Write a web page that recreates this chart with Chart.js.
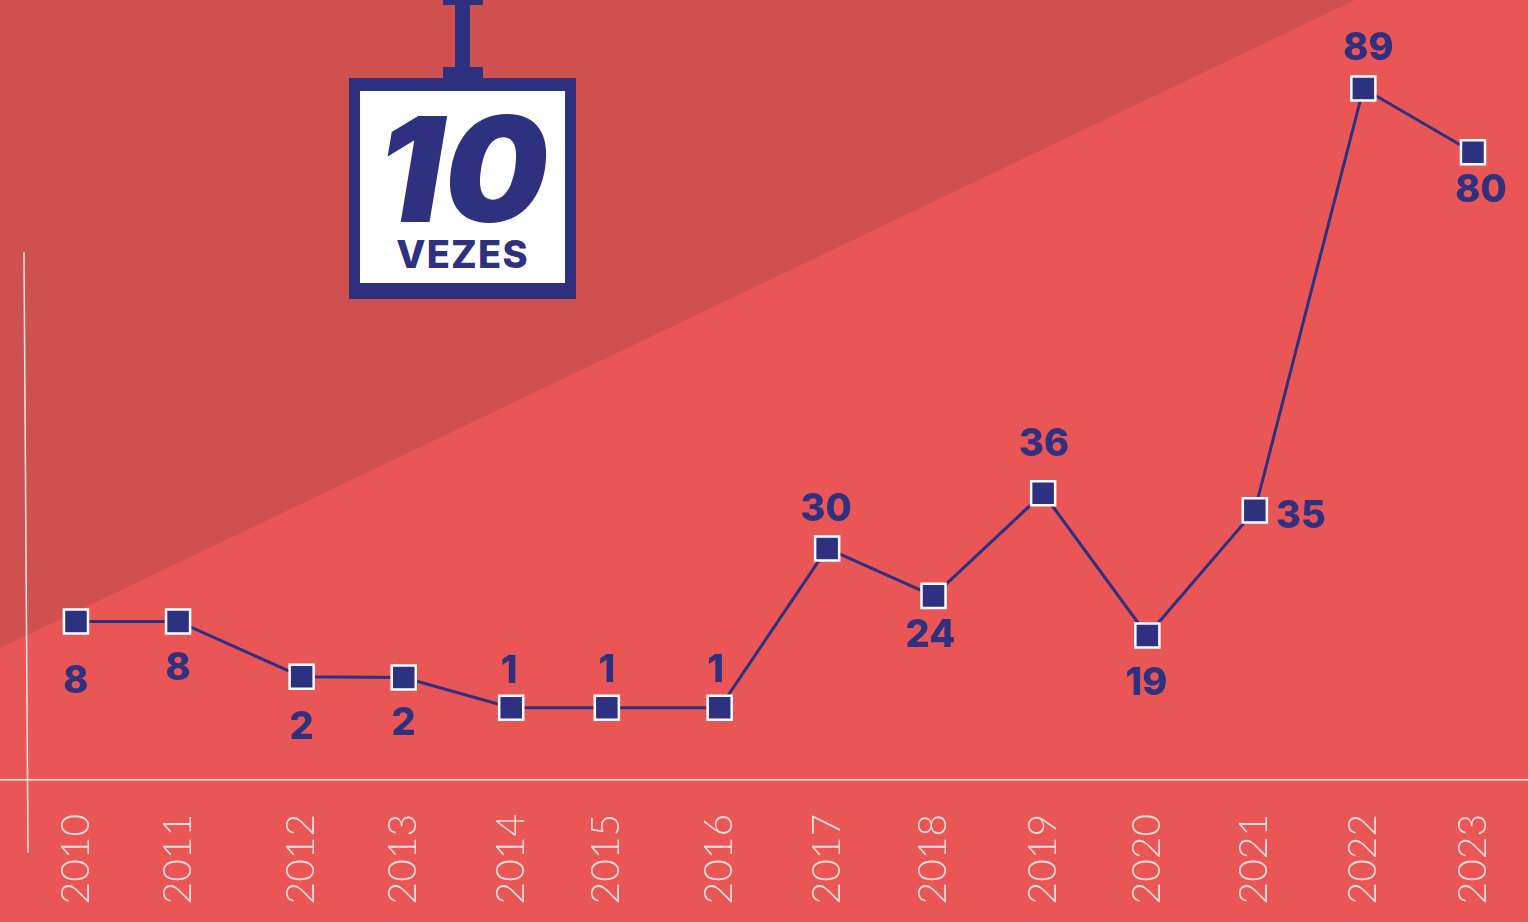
<!DOCTYPE html>
<html><head><meta charset="utf-8">
<script src="https://cdn.jsdelivr.net/npm/chart.js@4"></script>
<style>
html,body{margin:0;padding:0;width:1528px;height:922px;overflow:hidden;background:#EA5656}
#wrap{position:relative;width:1528px;height:922px}
canvas{position:absolute;left:0;top:0}
.navy{position:absolute;background:#2E3080}
#card{position:absolute;left:360px;top:91px;width:205px;height:192px;background:#fff;color:#2E3080;text-align:center;font-family:Inter,sans-serif}
#num{position:absolute;left:0;right:0;top:3px;font-size:146px;line-height:150px;font-weight:900;font-style:italic;letter-spacing:1px;padding-left:1px;box-sizing:border-box;white-space:nowrap}
#lbl{position:absolute;left:0;right:0;top:140px;font-size:38px;line-height:46px;font-weight:800;letter-spacing:1.2px}
</style></head>
<body><div id="wrap">
<canvas id="c" width="1528" height="922"></canvas>
<div class="navy" style="left:443px;top:0;width:40px;height:5px"></div>
<div class="navy" style="left:455px;top:0;width:15px;height:70px"></div>
<div class="navy" style="left:443px;top:67px;width:40px;height:12px"></div>
<div class="navy" style="left:349px;top:78px;width:227px;height:221px"></div>
<div id="card"><div id="num">10</div><div id="lbl">VEZES</div></div>
</div>
<script>
const yearLabels = ['2010','2011','2012','2013','2014','2015','2016','2017','2018','2019','2020','2021','2022','2023'];
// values printed on the chart
const values = [8,8,2,2,1,1,1,30,24,36,19,35,89,80];
// horizontal spots (the years are unevenly spaced there)
const yearSpots = [2010,2010.95,2012.1,2013.05,2014.05,2014.94,2015.99,2016.99,2017.98,2019,2019.97,2020.97,2021.98,2023];
// heights (the smallest values are drawn taller than their number)
const drawnHeights = [20.4,20.4,13.3,13.2,9.3,9.3,9.3,29.8,23.7,36.9,18.6,34.7,89,80.8];

const NAVY = '#2E3080', BG = '#EA5656', DARK = '#D05050';
const labelOffsets = [[0,60],[0,47],[0,51],[0,46],[-2,-36],[0,-37],[-4,-37],[-1,-39],[-3,40],[1,-49],[-1,48],[46,6],[5,-40],[8,38]];

const backdrop = {
  id:'backdrop',
  beforeDraw(chart){
    const c = chart.ctx;
    c.save();
    c.fillStyle = BG; c.fillRect(0,0,chart.width,chart.height);
    c.fillStyle = DARK;
    c.beginPath(); c.moveTo(0,0); c.lineTo(1355,0); c.lineTo(0,648); c.closePath(); c.fill();
    c.strokeStyle = 'rgba(255,255,255,0.85)'; c.lineWidth = 1.5;
    c.beginPath(); c.moveTo(24,252); c.lineTo(28,853); c.stroke();
    c.restore();
  }
};
const valueLabels = {
  id:'valueLabels',
  afterDatasetsDraw(chart){
    const c = chart.ctx, pts = chart.getDatasetMeta(0).data;
    c.save();
    c.fillStyle = NAVY; c.font = '800 38px Inter, sans-serif';
    c.textAlign = 'center'; c.textBaseline = 'middle';
    pts.forEach((p,i)=>c.fillText(String(values[i]), p.x+labelOffsets[i][0], p.y+labelOffsets[i][1]));
    c.restore();
  }
};
new Chart(document.getElementById('c'),{
  type:'line',
  data:{datasets:[{
    data:yearSpots.map((x,i)=>({x,y:drawnHeights[i]})),
    borderColor:NAVY,borderWidth:3,tension:0,clip:false,
    pointStyle:'rect',pointRadius:17,pointBackgroundColor:NAVY,pointBorderColor:'#fff',pointBorderWidth:2.5
  }]},
  options:{
    responsive:false,animation:false,
    layout:{padding:0,autoPadding:false},
    events:[],
    plugins:{legend:{display:false},tooltip:{enabled:false},title:{display:false}},
    scales:{
      y:{display:false,min:0,max:100.39},
      x:{
        type:'linear',min:2009.293,max:2023.512,
        afterBuildTicks(a){a.ticks=yearSpots.map(value=>({value}));},
        afterFit(a){a.height=142;a.paddingLeft=0;a.paddingRight=0;a.paddingTop=0;a.paddingBottom=0;},
        grid:{display:false},
        border:{display:true,color:'rgba(255,255,255,0.95)',width:1.5},
        ticks:{
          autoSkip:false,minRotation:90,maxRotation:90,padding:26,
          color:'rgba(255,255,255,0.8)',
          font:{family:'Lato, sans-serif',size:39,weight:'300'},
          callback:(v,i)=>yearLabels[i]
        }
      }
    }
  },
  plugins:[backdrop,valueLabels]
});
</script>
</body></html>
